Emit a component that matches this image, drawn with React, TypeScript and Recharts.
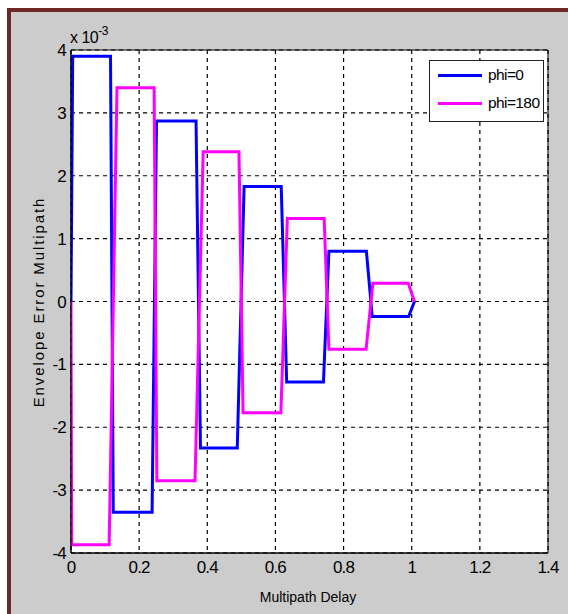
import React from "react";
import { LineChart, Line, XAxis, YAxis, CartesianGrid, ReferenceArea } from "recharts";

// axis ticks (y values are in units of 10^-3)
const xTicks = [0, 0.2, 0.4, 0.6, 0.8, 1, 1.2, 1.4];
const yTicks = [-4, -3, -2, -1, 0, 1, 2, 3, 4];

// phi=0 : each flat step, start / end delay and level
const phi0Start = [0.005, 0.124, 0.251, 0.38, 0.508, 0.633, 0.757, 0.884];
const phi0End = [0.116, 0.238, 0.367, 0.488, 0.617, 0.741, 0.867, 0.991];
const phi0Level = [3.9, -3.35, 2.87, -2.33, 1.83, -1.28, 0.8, -0.24];

// phi=180
const phi180Start = [0.002, 0.135, 0.252, 0.388, 0.505, 0.635, 0.757, 0.886];
const phi180End = [0.112, 0.244, 0.364, 0.493, 0.616, 0.743, 0.866, 0.99];
const phi180Level = [-3.87, 3.4, -2.85, 2.38, -1.77, 1.32, -0.76, 0.29];

const delayEnd = 1.008;

function steps(starts: number[], ends: number[], levels: number[]) {
  const pts = [{ x: 0, y: 0 }];
  levels.forEach((v, i) => {
    pts.push({ x: starts[i], y: v });
    pts.push({ x: ends[i], y: v });
  });
  pts.push({ x: delayEnd, y: 0 });
  return pts;
}

const phi0Data = steps(phi0Start, phi0End, phi0Level);
const phi180Data = steps(phi180Start, phi180End, phi180Level);

const series = [
  { name: "phi=0", color: "#0000ff", data: phi0Data },
  { name: "phi=180", color: "#ff00ff", data: phi180Data },
];

const narrow = '"Liberation Sans Narrow", "Arial Narrow", "Liberation Sans", sans-serif';
const sans = '"Liberation Sans", Arial, sans-serif';
const tickStyle = { fill: "#000", fontSize: 17, fontFamily: narrow, letterSpacing: -0.8 };

export default function App() {
  return (
    <div style={{ position: "absolute", left: 0, top: 0, width: 568, height: 614, background: "#fff", overflow: "hidden" }}>
      <div
        style={{
          position: "absolute",
          left: 7,
          top: 8,
          right: 0,
          bottom: 0,
          background: "#cccccc",
          borderTop: "4px solid #6d2727",
          borderLeft: "4px solid #6d2727",
        }}
      />
      <div style={{ position: "absolute", left: 0, top: 0 }}>
        <LineChart width={568} height={614} margin={{ top: 50, right: 20, bottom: 21, left: 11 }}>
          <CartesianGrid stroke="#000" strokeWidth={1.2} strokeDasharray="4 4" fill="#fff" horizontalValues={yTicks} verticalValues={xTicks} />
          <XAxis
            type="number"
            dataKey="x"
            domain={[0, 1.4]}
            ticks={xTicks}
            interval={0}
            allowDataOverflow
            height={40}
            tickLine={false}
            tickSize={0}
            tickMargin={8}
            axisLine={{ stroke: "#000" }}
            tick={tickStyle}
          />
          <YAxis
            type="number"
            domain={[-4, 4]}
            ticks={yTicks}
            interval={0}
            allowDataOverflow
            width={60}
            tickLine={false}
            tickSize={0}
            tickMargin={5}
            axisLine={{ stroke: "#000" }}
            tick={tickStyle}
          />
          <ReferenceArea x1={0} x2={1.4} y1={-4} y2={4} fill="none" stroke="#000" ifOverflow="visible" />
          {series.map((s) => (
            <Line
              key={s.name}
              data={s.data}
              dataKey="y"
              name={s.name}
              type="linear"
              stroke={s.color}
              strokeWidth={3}
              dot={false}
              activeDot={false}
              isAnimationActive={false}
            />
          ))}
        </LineChart>
      </div>

      {/* exponent above the y axis */}
      <div style={{ position: "absolute", left: 70, top: 26, fontFamily: narrow, fontSize: 16, letterSpacing: -0.5, color: "#000", whiteSpace: "nowrap" }}>
        x 10<sup style={{ fontSize: 12, position: "relative", top: -2 }}>-3</sup>
      </div>

      {/* legend */}
      <div
        style={{
          position: "absolute",
          left: 429,
          top: 60,
          width: 115,
          height: 62,
          boxSizing: "border-box",
          background: "#fff",
          border: "1px solid #222",
        }}
      >
        {series.map((s, i) => (
          <div key={s.name} style={{ position: "absolute", left: 8, top: 4 + i * 28, display: "flex", alignItems: "center", height: 20 }}>
            <div style={{ width: 44, height: 3, background: s.color }} />
            <span style={{ marginLeft: 6, fontFamily: narrow, fontSize: 15.5, letterSpacing: -0.6, color: "#000" }}>{s.name}</span>
          </div>
        ))}
      </div>

      {/* axis titles */}
      <div
        style={{
          position: "absolute",
          left: 38,
          top: 302,
          transform: "translate(-50%, -50%) rotate(-90deg)",
          fontFamily: sans,
          fontSize: 15,
          letterSpacing: 1.9,
          color: "#000",
          whiteSpace: "nowrap",
        }}
      >
        Envelope Error Multipath
      </div>
      <div
        style={{
          position: "absolute",
          left: 308,
          top: 597,
          transform: "translate(-50%, -50%)",
          fontFamily: sans,
          fontSize: 14,
          color: "#000",
          whiteSpace: "nowrap",
        }}
      >
        Multipath Delay
      </div>
    </div>
  );
}
